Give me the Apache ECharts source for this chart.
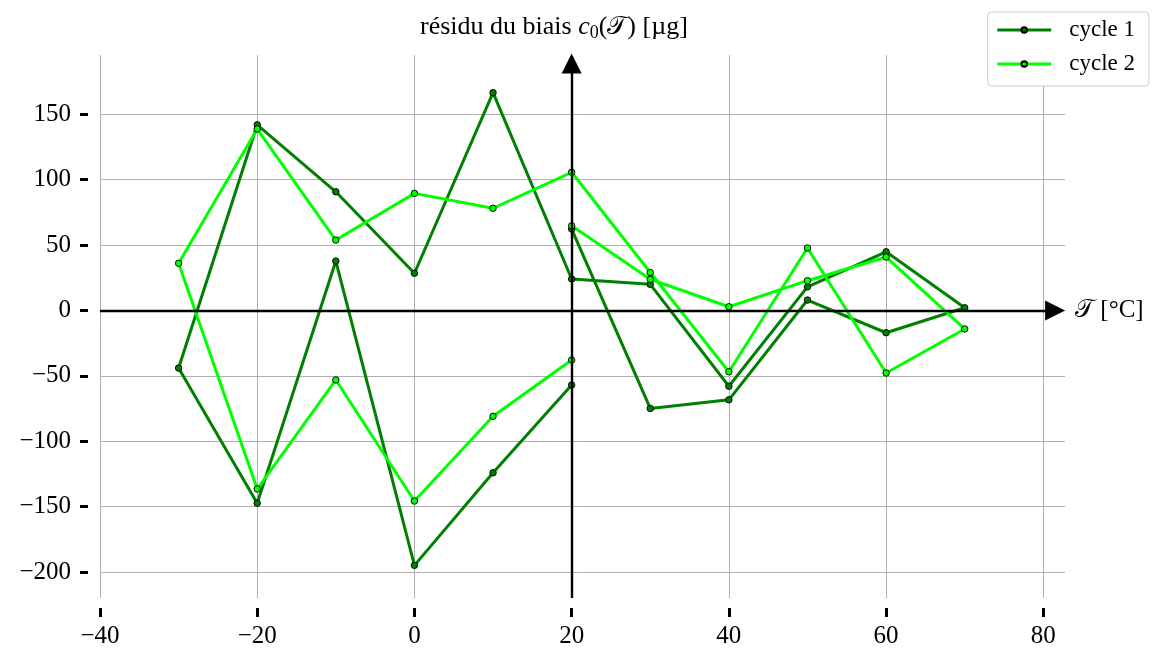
<!DOCTYPE html>
<html>
<head>
<meta charset="utf-8">
<script src="https://cdn.jsdelivr.net/npm/echarts@6/dist/echarts.min.js"></script>
<style>html,body{margin:0;padding:0;background:#fff}#c{width:1153px;height:653px}</style>
</head>
<body>
<div id="c"></div>
<script>
// Temperature order of each measurement cycle (°C)
const cycleTemps = [20,30,40,50,60,70,60,50,40,30,20,10,0,-10,-20,-30,-20,-10,0,10,20];
// Residual of bias c0 (µg), cycle 1
const cycle1 = [62.3,-74.9,-68.3,8.0,-17.0,2.1,44.9,18.1,-57.9,20.0,24.1,166.6,28.5,90.8,142.0,-44.0,-147.4,37.8,-194.9,-124.1,-57.0];
// Residual of bias c0 (µg), cycle 2
const cycle2 = [64.8,23.9,2.9,22.8,40.9,-14.1,-47.8,47.8,-46.8,29.1,105.7,78.2,89.6,53.9,138.8,36.1,-136.5,-53.1,-145.7,-80.9,-37.9];
const xTicks = [-40,-20,0,20,40,60,80];
const yTicks = [-200,-150,-100,-50,0,50,100,150];
const seriesNames = ['cycle 1','cycle 2'];
const titleText = 'résidu du biais ';
const xName = '𝒯 [°C]';

const FONT = 'Liberation Serif';
const minus = v => String(v).replace('-', '\u2212');
const pairs = arr => cycleTemps.map((t,i)=>[t, arr[i]]);

const chart = echarts.init(document.getElementById('c'), null, {renderer:'canvas'});
const lineSeries = (name, data, color) => ({
  name, type:'line', data: pairs(data), z:3,
  symbol:'circle', symbolSize:6.5, showSymbol:true,
  lineStyle:{color, width:3},
  itemStyle:{color, borderColor:'#000', borderWidth:0.9},
  emphasis:{disabled:true}
});
const txt = (extra) => Object.assign({fontFamily:FONT, fontSize:26, fontWeight:'normal', color:'#000'}, extra||{});
chart.setOption({
  animation:false,
  backgroundColor:'#fff',
  title:{
    text:'{n|'+titleText+'}{i|c}{s|0}{n|(𝒯) [µg]}',
    left:415, top:7,
    textStyle:{fontWeight:'normal', rich:{
      n:txt(),
      i:txt({fontStyle:'italic'}),
      s:txt({fontSize:18, verticalAlign:'bottom', padding:[12,0,0,0]})
    }}
  },
  legend:{
    right:4, top:12, orient:'vertical',
    data:seriesNames,
    itemWidth:54, itemHeight:7, itemGap:10,
    padding:[6,14,10,8],
    borderColor:'#cccccc', borderWidth:1, borderRadius:4,
    backgroundColor:'#fff',
    lineStyle:{width:3},
    textStyle:{fontFamily:FONT,fontSize:23,color:'#000',padding:[0,0,0,13],lineHeight:24}
  },
  grid:{left:100, right:88, top:55, bottom:55, containLabel:false},
  xAxis:{
    type:'value', min:-40, max:82.76, offset:10,
    axisLine:{show:false, onZero:false},
    axisTick:{show:true, length:9, lineStyle:{color:'#000', width:3}, customValues:xTicks},
    axisLabel:{fontFamily:FONT, fontSize:25, color:'#000', margin:16, formatter:minus, customValues:xTicks},
    splitLine:{show:true, lineStyle:{color:'#b0b0b0', width:1}}
  },
  yAxis:{
    type:'value', min:-219.85, max:195.4, offset:12,
    axisLine:{show:false, onZero:false},
    axisTick:{show:true, length:8, lineStyle:{color:'#000', width:3}, customValues:yTicks},
    axisLabel:{fontFamily:FONT, fontSize:25, color:'#000', margin:17, formatter:minus, customValues:yTicks},
    splitLine:{show:true, lineStyle:{color:'#b0b0b0', width:1}}
  },
  series:[
    {
      type:'line', data:[], z:1, silent:true,
      markLine:{
        silent:true, animation:false,
        symbol:['none','triangle'], symbolSize:20,
        lineStyle:{color:'#000', width:2.4, type:'solid'},
        label:{show:false},
        data:[
          [{coord:[-40,0]},{coord:[81.5,0], label:{show:true, position:'end', distance:20, formatter:xName, fontFamily:FONT, fontSize:25, color:'#000'}}],
          [{coord:[20,-219.85]},{coord:[20,188.9]}]
        ]
      }
    },
    lineSeries(seriesNames[0], cycle1, '#008000'),
    lineSeries(seriesNames[1], cycle2, '#00ff00')
  ]
});
</script>
</body>
</html>
